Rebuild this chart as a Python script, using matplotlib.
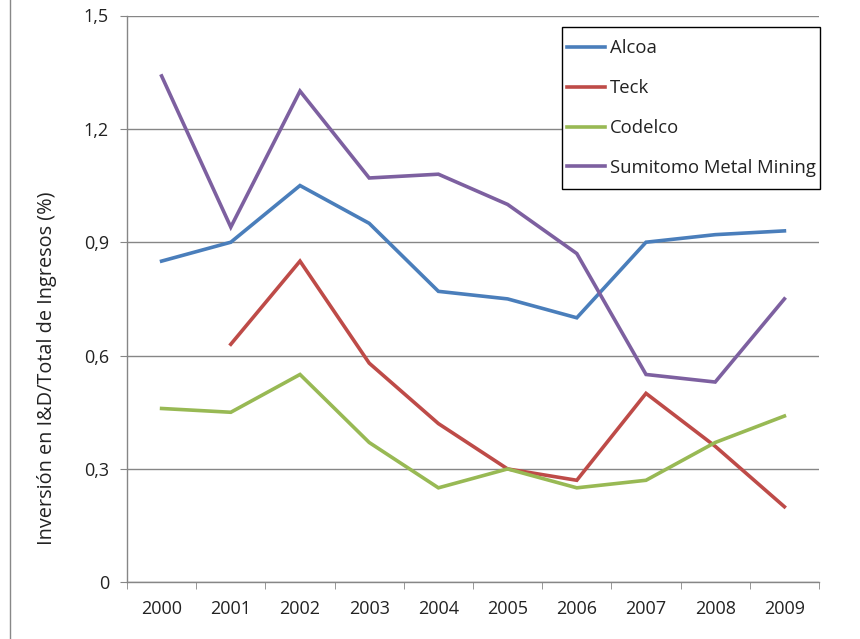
import matplotlib
matplotlib.use("Agg")
import matplotlib.pyplot as plt
import numpy as np
from matplotlib.lines import Line2D
from matplotlib.patches import Rectangle

years = ["2000", "2001", "2002", "2003", "2004", "2005", "2006", "2007", "2008", "2009"]
alcoa = [0.85, 0.90, 1.05, 0.95, 0.77, 0.75, 0.70, 0.90, 0.92, 0.93]
teck = [np.nan, 0.63, 0.85, 0.58, 0.42, 0.30, 0.27, 0.50, 0.36, 0.20]
codelco = [0.46, 0.45, 0.55, 0.37, 0.25, 0.30, 0.25, 0.27, 0.37, 0.44]
sumitomo = [1.34, 0.94, 1.30, 1.07, 1.08, 1.00, 0.87, 0.55, 0.53, 0.75]
series_names = ["Alcoa", "Teck", "Codelco", "Sumitomo Metal Mining"]
colors = ["#4A7EBB", "#BE4B48", "#98B954", "#7D60A0"]
yticks = [0, 0.3, 0.6, 0.9, 1.2, 1.5]
ytick_labels = ["0", "0,3", "0,6", "0,9", "1,2", "1,5"]

plt.rcParams['font.family'] = ['Open Sans', 'DejaVu Sans']

fig = plt.figure(figsize=(8.6, 6.39), dpi=100)
ax = fig.add_axes([127/860, 1-582.3/639, 692/860, 566.8/639])

x = np.arange(len(years))
for vals, name, c in zip([alcoa, teck, codelco, sumitomo], series_names, colors):
    ax.plot(x, vals, color=c, lw=2.6, label=name, solid_joinstyle='miter')

ax.set_xlim(-0.5, len(years) - 0.5)
ax.set_ylim(0, 1.5)
ax.set_yticks(yticks)
ax.set_yticklabels(ytick_labels)
ax.set_xticks(x)
ax.set_xticklabels(years)
ax.set_xticks(np.arange(-0.5, len(years)), minor=True)
ax.tick_params(axis='x', which='major', length=0, pad=13, labelsize=13, colors='#222222')
ax.tick_params(axis='x', which='minor', length=5, color='#868686', direction='out')
ax.tick_params(axis='y', length=5, color='#868686', direction='out', pad=8, labelsize=13, labelcolor='#222222')
ax.yaxis.grid(True, color='#868686', lw=1)
ax.set_axisbelow(True)
for s in ['top', 'right']:
    ax.spines[s].set_visible(False)
for s in ['left', 'bottom']:
    ax.spines[s].set_color('#868686')
    ax.spines[s].set_linewidth(1)

ax.set_ylabel("Inversión en I&D/Total de Ingresos (%)", fontsize=14.3, color='#222222')
ax.yaxis.set_label_coords(-0.101, 0.377)

# legend box
box = Rectangle((562/860, 1-189/639), 258/860, 162/639, transform=fig.transFigure,
                facecolor='white', edgecolor='black', lw=1, zorder=4, clip_on=False)
ax.add_patch(box)
leg = ax.legend(loc='upper left', bbox_to_anchor=(555/860, 1-27/639), bbox_transform=fig.transFigure,
                frameon=False, fontsize=13.3,
                handlelength=2.05, handletextpad=0.27, labelspacing=1.18, borderpad=0.67, borderaxespad=0)
leg.set_zorder(5)
for t in leg.get_texts():
    t.set_color('#222222')

fig.add_artist(Line2D([10/860, 10/860], [0, 1], transform=fig.transFigure, color='#888888', lw=1))

fig.savefig("out.png", dpi=100, facecolor='white')
